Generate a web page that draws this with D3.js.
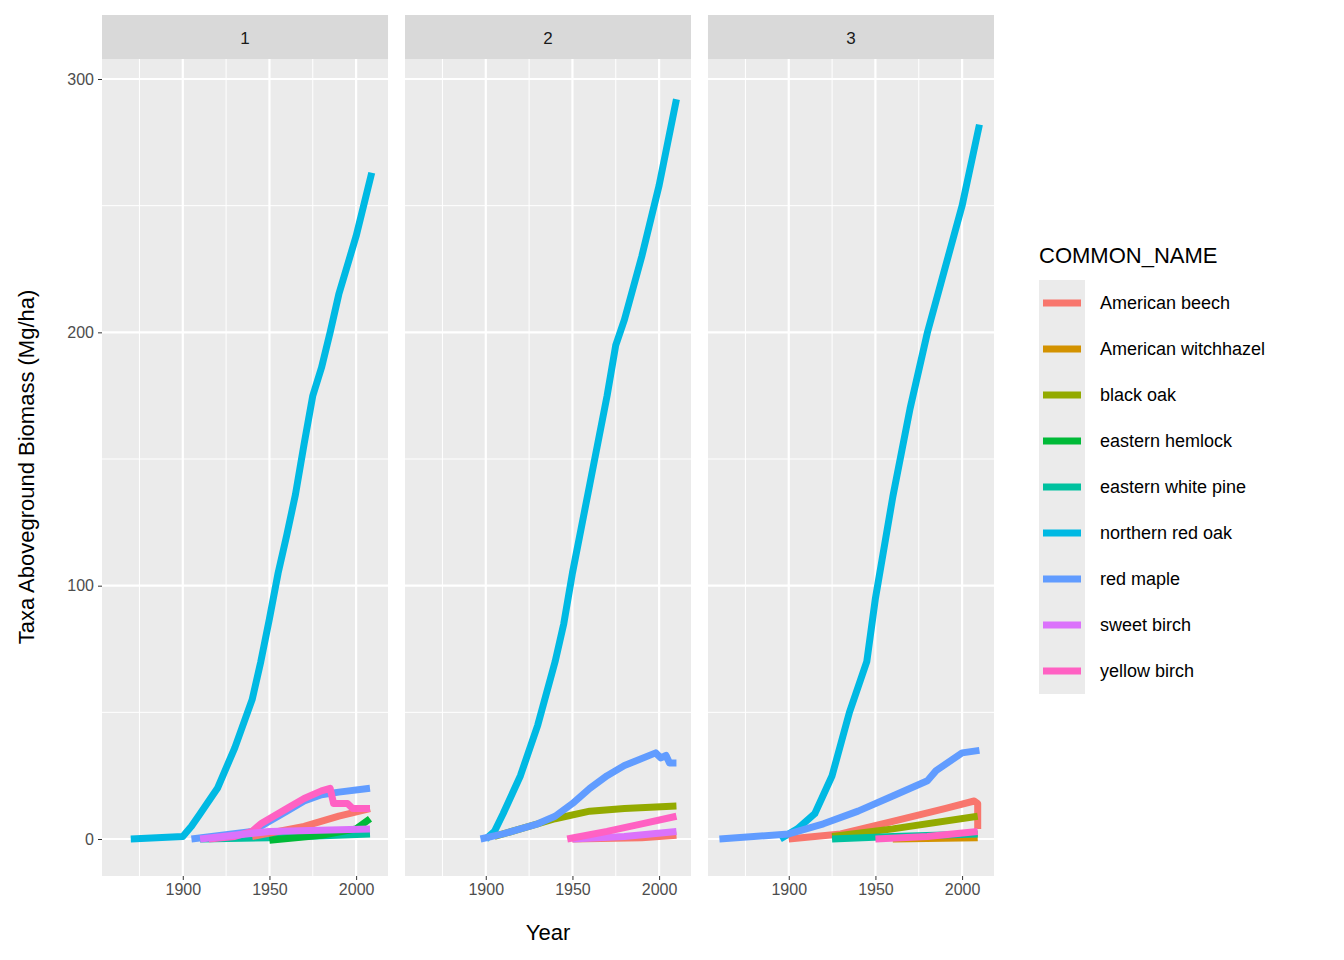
<!DOCTYPE html><html><head><meta charset="utf-8"><script src="https://cdn.jsdelivr.net/npm/d3@7"></script>
<style>body{margin:0;background:#fff}text{font-family:"Liberation Sans",Arial,sans-serif}</style></head><body><svg id="c" width="1344" height="960"></svg>
<script>
const species=["American beech","American witchhazel","black oak","eastern hemlock","eastern white pine","northern red oak","red maple","sweet birch","yellow birch"];
const colors=["#F8766D","#D39200","#93AA00","#00BA38","#00C19F","#00B9E3","#619CFF","#DB72FB","#FF61C3"];
const panels=["1","2","3"];
const xTicks=[1900,1950,2000], yTicks=[0,100,200,300];
// [panel, species, [[year,biomass],...]]
const series=[
["1","northern red oak",[[1870,0],[1900,1],[1905,5],[1910,10],[1920,20],[1930,36],[1940,55],[1945,70],[1950,87],[1955,105],[1960,120],[1965,136],[1970,156],[1975,175],[1980,186],[1985,200],[1990,215],[2000,238],[2009,263]]],
["1","eastern white pine",[[1910,0],[1950,0.5],[2008,2]]],
["1","eastern hemlock",[[1950,-0.5],[1980,1.5],[2000,4],[2008,8]]],
["1","American beech",[[1940,1],[1970,5],[1990,9],[2008,12]]],
["1","red maple",[[1905,0],[1940,3],[1950,7],[1960,11],[1970,15],[1980,17.5],[1990,18.5],[2008,20]]],
["1","yellow birch",[[1915,0],[1930,1],[1940,3],[1945,6],[1960,12],[1970,16],[1980,19],[1985,20],[1987,14],[1995,14],[1998,12],[2008,12]]],
["1","sweet birch",[[1910,0],[1950,3],[2008,4]]],
["2","northern red oak",[[1900,0],[1905,3],[1910,10],[1920,25],[1930,45],[1940,70],[1945,85],[1950,105],[1960,140],[1970,175],[1975,195],[1980,205],[1990,230],[2000,258],[2010,292]]],
["2","American beech",[[1950,0],[1990,0.5],[2010,1.5]]],
["2","black oak",[[1905,1],[1920,4],[1940,8],[1960,11],[1980,12],[2010,13]]],
["2","sweet birch",[[1950,0],[1980,1],[2010,3]]],
["2","yellow birch",[[1947,0],[1970,3],[1990,6],[2010,9]]],
["2","red maple",[[1897,0],[1910,2],[1920,4],[1930,6],[1940,9],[1950,14],[1960,20],[1970,25],[1980,29],[1998,34],[2001,32],[2004,33],[2006,30],[2010,30]]],
["3","northern red oak",[[1895,0],[1905,4],[1915,10],[1925,25],[1935,50],[1945,70],[1950,95],[1960,135],[1970,170],[1980,200],[1990,225],[2000,250],[2010,282]]],
["3","American witchhazel",[[1960,0],[2009,0.5]]],
["3","American beech",[[1900,0],[1930,2],[1960,7],[1990,12],[2007,15],[2009,14],[2009,4]]],
["3","black oak",[[1925,1],[1960,4],[2009,9]]],
["3","eastern white pine",[[1925,0],[1960,1],[2009,2]]],
["3","yellow birch",[[1950,0],[1980,1],[2009,3]]],
["3","red maple",[[1860,0],[1900,2],[1920,6],[1940,11],[1960,17],[1980,23],[1985,27],[2000,34],[2010,35]]]
];
const svg=d3.select("#c");
const pTop=59,pBot=876;
const px=d3.scaleBand().domain(panels).range([102,994]).paddingInner(0.056);
const col=d3.scaleOrdinal().domain(species).range(colors);
const y=d3.scaleLinear().domain([-14.6,307.9]).range([pBot,pTop]);
panels.forEach(p=>{
  const x0=px(p),w=px.bandwidth();
  const x=d3.scaleLinear().domain([1853.4,2018.4]).range([x0,x0+w]);
  const g=svg.append("g");
  g.append("rect").attr("x",x0).attr("y",15).attr("width",w).attr("height",44).attr("fill","#d9d9d9");
  g.append("text").attr("x",x0+w/2).attr("y",44).attr("text-anchor","middle").attr("font-size",17).attr("fill","#1a1a1a").text(p);
  g.append("rect").attr("x",x0).attr("y",pTop).attr("width",w).attr("height",pBot-pTop).attr("fill","#ebebeb");
  [1875,1925,1975].forEach(v=>g.append("line").attr("x1",x(v)).attr("x2",x(v)).attr("y1",pTop).attr("y2",pBot).attr("stroke","#fff").attr("stroke-width",1));
  [50,150,250].forEach(v=>g.append("line").attr("x1",x0).attr("x2",x0+w).attr("y1",y(v)).attr("y2",y(v)).attr("stroke","#fff").attr("stroke-width",1));
  xTicks.forEach(v=>g.append("line").attr("x1",x(v)).attr("x2",x(v)).attr("y1",pTop).attr("y2",pBot).attr("stroke","#fff").attr("stroke-width",2.2));
  yTicks.forEach(v=>g.append("line").attr("x1",x0).attr("x2",x0+w).attr("y1",y(v)).attr("y2",y(v)).attr("stroke","#fff").attr("stroke-width",2.2));
  const ax=g.append("g").attr("transform",`translate(0,${pBot})`).call(d3.axisBottom(x).tickValues(xTicks).tickFormat(d3.format("d")).tickSize(4).tickPadding(4));
  ax.select(".domain").remove();
  ax.selectAll("line").attr("stroke","#333");
  ax.selectAll("text").attr("font-size",16).attr("fill","#4d4d4d").style("font-family","Liberation Sans, Arial");
  const line=d3.line().x(d=>x(d[0])).y(d=>y(d[1]));
  series.filter(s=>s[0]===p).forEach(s=>g.append("path").attr("d",line(s[2])).attr("fill","none").attr("stroke",col(s[1])).attr("stroke-width",7).attr("stroke-linejoin","round"));
});
const ay=svg.append("g").attr("transform","translate(102,0)").call(d3.axisLeft(y).tickValues(yTicks).tickSize(4).tickPadding(4));
ay.select(".domain").remove();ay.selectAll("line").attr("stroke","#333");
ay.selectAll("text").attr("font-size",16).attr("fill","#4d4d4d").style("font-family","Liberation Sans, Arial");
svg.append("text").attr("x",548).attr("y",940).attr("text-anchor","middle").attr("font-size",22).text("Year");
svg.append("text").attr("transform","translate(34,467) rotate(-90)").attr("text-anchor","middle").attr("font-size",22).text("Taxa Aboveground Biomass (Mg/ha)");
const lg=svg.append("g");
lg.append("text").attr("x",1039).attr("y",263).attr("font-size",22).text("COMMON_NAME");
species.forEach((s,i)=>{
  const yy=280+i*46;
  lg.append("rect").attr("x",1039).attr("y",yy).attr("width",46).attr("height",46).attr("fill","#ebebeb");
  lg.append("line").attr("x1",1043).attr("x2",1081).attr("y1",yy+23).attr("y2",yy+23).attr("stroke",col(s)).attr("stroke-width",7);
  lg.append("text").attr("x",1100).attr("y",yy+29).attr("font-size",18).text(s);
});
</script></body></html>
